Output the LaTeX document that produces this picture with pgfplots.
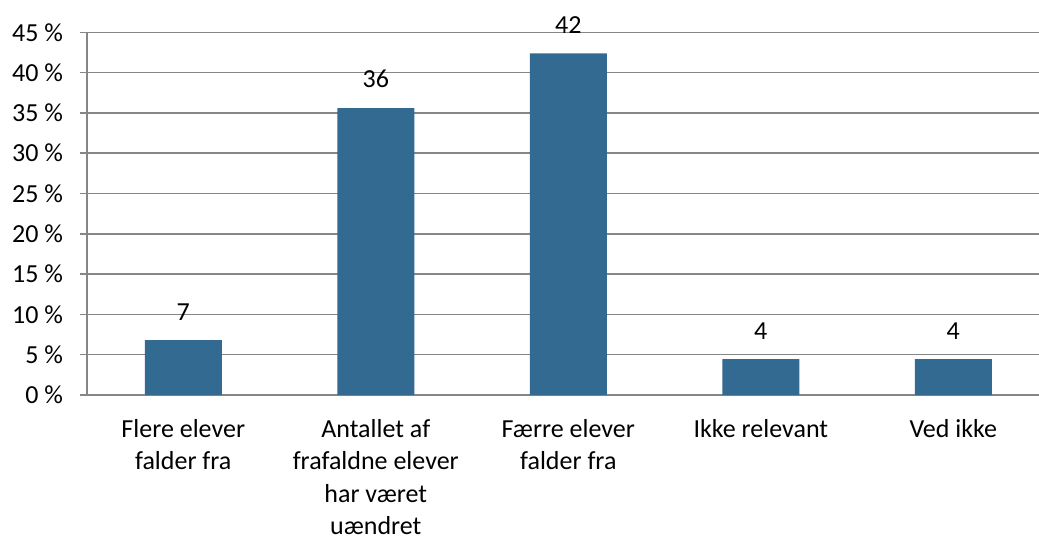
\documentclass[border=0pt]{standalone}
\usepackage{pgfplots}
\pgfplotsset{compat=1.18}
\usepackage{fontspec}
\setmainfont{Carlito}
\definecolor{barblue}{HTML}{336A91}
\definecolor{axgrey}{HTML}{868686}

\begin{document}
\begin{tikzpicture}
\useasboundingbox (-43.5pt,-71.5pt) rectangle (476pt,197.5pt);
\begin{axis}[
    at={(0,0)}, anchor=south west,
    scale only axis,
    width=476pt, height=181.35pt,
    ymin=0, ymax=45,
    ytick={0,5,...,45},
    xmin=-0.5, xmax=4.445,
    xtick={0,...,4},
    xticklabels={Flere elever\\falder fra, Antallet af\\frafaldne elever\\har været\\uændret, Færre elever\\falder fra, Ikke relevant, Ved ikke},
    extra x ticks={-0.5,0.5,...,3.5},
    extra x tick labels={},
    extra x tick style={major tick length=3.5pt, tick align=outside},
    major tick length=3.5pt,
    x tick style={draw=none},
    y tick style={draw=axgrey, line width=0.75pt},
    tick align=outside,
    axis x line*=bottom,
    axis y line*=left,
    axis line style={draw=axgrey, line width=1pt, -},
    ymajorgrids,
    grid style={draw=axgrey, line width=0.75pt},
    tick label style={font=\fontsize{13}{16.1}\selectfont, text=black},
    xticklabel style={align=center, anchor=north, yshift=-5.3pt},
    yticklabel={\pgfmathprintnumber{\tick}\ \%},
    yticklabel style={xshift=-5pt},
    /pgf/number format/assume math mode=true,
    ybar, bar width=38.5pt,
    nodes near coords,
    point meta=explicit symbolic,
    every node near coord/.append style={font=\fontsize{13}{15.6}\selectfont, text=black, yshift=6.5pt},
]
\addplot[fill=barblue, draw=none] coordinates {
    (0,6.8) [7]
    (1,35.6) [36]
    (2,42.4) [42]
    (3,4.45) [4]
    (4,4.45) [4]
};
\end{axis}
\end{tikzpicture}
\end{document}
